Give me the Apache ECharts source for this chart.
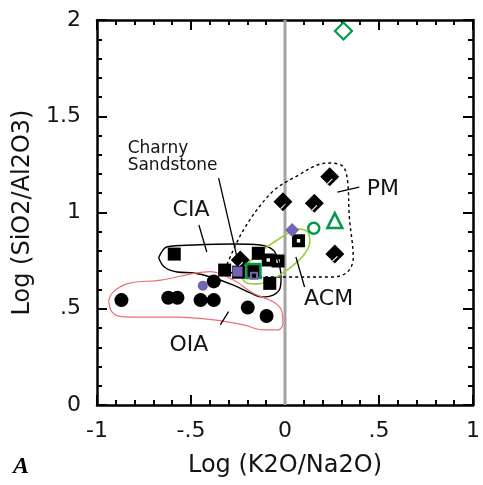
<!DOCTYPE html>
<html>
<head>
<meta charset="utf-8">
<script src="https://cdn.jsdelivr.net/npm/echarts@6/dist/echarts.min.js"></script>
<style>
  html, body { margin: 0; padding: 0; background: #ffffff; }
  #chart { width: 483px; height: 485px; }
</style>
</head>
<body>
<div id="chart"></div>
<script>
// Axis ticks and their printed labels
const xTicks = [-1, -0.5, 0, 0.5, 1];
const xTickLabels = ['-1', '-.5', '0', '.5', '1'];
const yTicks = [0, 0.5, 1, 1.5, 2];
const yTickLabels = ['0', '.5', '1', '1.5', '2'];

// Sample compositions: [log(K2O/Na2O), log(SiO2/Al2O3)]
const blackCircles = [[-0.87, 0.545], [-0.621, 0.557], [-0.572, 0.557], [-0.379, 0.642],
                      [-0.449, 0.545], [-0.379, 0.545], [-0.198, 0.506], [-0.098, 0.462]];
const blackSquares = [[-0.589, 0.784], [-0.321, 0.701], [-0.142, 0.788], [-0.247, 0.690],
                      [-0.081, 0.632], [-0.168, 0.696]];
const dottedSquares = [[-0.089, 0.753], [-0.037, 0.748], [0.072, 0.853]];
const blackDiamonds = [[-0.238, 0.753], [-0.011, 1.056], [0.238, 1.186], [0.156, 1.048], [0.265, 0.784]];
const purpleCircles = [[-0.437, 0.62]];
const purpleSquares = [[-0.253, 0.693]];
const purpleDiamonds = [[0.038, 0.909]];
const purpleOpenSquares = [[-0.165, 0.672]];
const charnySquare = [[-0.168, 0.696]];
const greenCircles = [[0.153, 0.918]];
const greenTriangles = [[0.265, 0.958]];
const greenDiamonds = [[0.311, 1.943]];

// Provenance field outlines
const pmField = [[-0.321, 0.701], [-0.221, 0.909], [-0.074, 1.101], [0.053, 1.184], [0.226, 1.257],
                 [0.305, 1.242], [0.332, 1.169], [0.342, 0.977], [0.363, 0.764], [0.332, 0.691],
                 [0.253, 0.665], [0.016, 0.665], [-0.184, 0.665], [-0.321, 0.701]];
const ciaField = [[-0.672, 0.765], [-0.626, 0.822], [-0.484, 0.831], [-0.274, 0.836], [-0.132, 0.831],
                  [-0.063, 0.805], [-0.037, 0.753], [-0.021, 0.665], [-0.026, 0.608], [-0.063, 0.571],
                  [-0.126, 0.561], [-0.184, 0.582], [-0.274, 0.623], [-0.395, 0.665], [-0.484, 0.686],
                  [-0.574, 0.691], [-0.642, 0.717], [-0.672, 0.765]];
const oiaField = [[-0.938, 0.545], [-0.912, 0.589], [-0.833, 0.632], [-0.658, 0.649], [-0.484, 0.684],
                  [-0.395, 0.693], [-0.274, 0.649], [-0.168, 0.580], [-0.063, 0.536], [-0.019, 0.493],
                  [-0.011, 0.424], [-0.037, 0.390], [-0.116, 0.390], [-0.221, 0.416], [-0.379, 0.442],
                  [-0.574, 0.456], [-0.747, 0.456], [-0.870, 0.459], [-0.922, 0.485], [-0.938, 0.545]];
const acmField = [[-0.232, 0.665], [-0.205, 0.634], [-0.142, 0.629], [-0.063, 0.655], [0.026, 0.712],
                  [0.100, 0.779], [0.132, 0.847], [0.121, 0.899], [0.068, 0.914], [0.000, 0.883],
                  [-0.132, 0.795], [-0.195, 0.738], [-0.226, 0.696], [-0.232, 0.665]];

// Field names and their leader lines
const fieldLabels = [
  { name: 'CIA', at: [-0.5, 1.013] },
  { name: 'OIA', at: [-0.511, 0.312] },
  { name: 'ACM', at: [0.232, 0.551] },
  { name: 'PM', at: [0.521, 1.122] }
];
const charnyLabel = { name: 'Charny\nSandstone', at: [-0.837, 1.286] };
const leaders = [
  [[-0.353, 1.179], [-0.258, 0.779]],
  [[-0.458, 0.935], [-0.416, 0.795]],
  [[-0.300, 0.485], [-0.344, 0.416]],
  [[0.058, 0.769], [0.104, 0.613]],
  [[0.279, 1.106], [0.395, 1.132]]
];
const zeroLine = [[0, 0], [0, 2]];

const FONT = 'DejaVu Sans';
const INK = '#000000';
const TEXT = '#141414';
const PURPLE = '#7464b4';
const GREEN = '#009a4c';

// Filled diamond with a thin white stroke near its lower-right edge
const diamondMark = 'path://M0,-10L10,0L0,10L-10,0Z M-3.2,7.4L-2.4,8.2L3.1,2.7L2.3,1.9Z';
// Filled square with a white centre dot
const dotSquareMark = 'path://M-10,-10L10,-10L10,10L-10,10Z M-2.6,-2.6L-2.6,2.6L2.6,2.6L2.6,-2.6Z';

function tickLabel(ticks, labels) {
  return v => {
    const i = ticks.findIndex(t => Math.abs(t - v) < 1e-9);
    return i >= 0 ? labels[i] : '';
  };
}

function frameAxis(extra) {
  return Object.assign({
    type: 'value',
    interval: 0.5,
    splitLine: { show: false },
    axisLine: { show: true, onZero: false, lineStyle: { color: INK, width: 2.5 } },
    axisTick: { show: true, inside: true, length: 10, lineStyle: { color: INK, width: 2 } },
    minorTick: { show: true, splitNumber: 5, length: 5, lineStyle: { color: INK, width: 2 } },
    axisLabel: { show: false }
  }, extra);
}

function outline(data, color, width, type, smooth) {
  return {
    type: 'line', data: data, smooth: smooth, symbol: 'none', silent: true, z: 2,
    lineStyle: { color: color, width: width, type: type }
  };
}

function points(data, symbol, size, style, z) {
  return {
    type: 'scatter', data: data, symbol: symbol, symbolSize: size, z: z || 5,
    itemStyle: Object.assign({ opacity: 1 }, style)
  };
}

function textMarks(items, labelStyle) {
  return {
    type: 'scatter', symbolSize: 0, silent: true, z: 8,
    itemStyle: { opacity: 1 },
    data: items.map(l => ({ value: l.at, name: l.name })),
    label: Object.assign({ show: true, formatter: '{b}', color: TEXT, fontFamily: FONT, opacity: 1 }, labelStyle)
  };
}

const series = [
  { type: 'line', data: zeroLine, symbol: 'none', z: 1, lineStyle: { color: '#a3a3a3', width: 3 } },
  outline(pmField, INK, 1.4, [3, 3], 0.35),
  outline(ciaField, INK, 1.4, 'solid', 0.35),
  outline(oiaField, '#ee6f74', 1.2, 'solid', 0.35),
  outline(acmField, '#9acd3a', 1.6, 'solid', 0.35)
];

leaders.forEach(seg => {
  series.push({ type: 'line', data: seg, symbol: 'none', z: 2, lineStyle: { color: INK, width: 1.3 } });
});

series.push(
  points(blackCircles, 'circle', 14, { color: INK }),
  points(blackSquares, 'rect', 13, { color: INK }),
  points(dottedSquares, dotSquareMark, 13, { color: INK }),
  points(blackDiamonds, diamondMark, 19, { color: INK }),
  points(charnySquare, 'rect', 14, { color: 'rgba(0,0,0,0)', borderColor: GREEN, borderWidth: 2.5 }, 6),
  points(purpleOpenSquares, 'rect', 6, { color: INK, borderColor: PURPLE, borderWidth: 2 }, 7),
  points(purpleCircles, 'circle', 10, { color: PURPLE }, 6),
  points(purpleSquares, 'rect', 10, { color: PURPLE }, 6),
  points(purpleDiamonds, 'diamond', 14, { color: PURPLE }, 6),
  points(greenCircles, 'circle', 11, { color: '#fff', borderColor: GREEN, borderWidth: 2.5 }, 6),
  points(greenTriangles, 'triangle', 15, { color: '#fff', borderColor: GREEN, borderWidth: 2.5 }, 6),
  points(greenDiamonds, 'diamond', 17, { color: '#fff', borderColor: GREEN, borderWidth: 2.2 }, 6)
);

series.push(textMarks(fieldLabels, { position: 'inside', fontSize: 22 }));
series.push(textMarks([charnyLabel], { position: 'right', distance: 0, align: 'left', fontSize: 17, lineHeight: 17 }));

const option = {
  backgroundColor: '#ffffff',
  animation: false,
  grid: { left: 97, right: 6, top: 20, bottom: 80, containLabel: false },
  xAxis: [
    frameAxis({
      position: 'bottom', min: -1, max: 1,
      name: 'Log (K2O/Na2O)', nameLocation: 'middle', nameGap: 49,
      nameTextStyle: { fontFamily: FONT, fontSize: 24, color: TEXT },
      axisLabel: { show: true, margin: 15, fontFamily: FONT, fontSize: 22, color: TEXT,
                   formatter: tickLabel(xTicks, xTickLabels) }
    }),
    frameAxis({ position: 'top', min: -1, max: 1 })
  ],
  yAxis: [
    frameAxis({
      position: 'left', min: 0, max: 2,
      name: 'Log (SiO2/Al2O3)', nameLocation: 'middle', nameGap: 56,
      nameTextStyle: { fontFamily: FONT, fontSize: 24, color: TEXT },
      axisLabel: { show: true, margin: 16, fontFamily: FONT, fontSize: 22, color: TEXT,
                   formatter: tickLabel(yTicks, yTickLabels) }
    }),
    frameAxis({ position: 'right', min: 0, max: 2 })
  ],
  graphic: [{
    type: 'text', left: 13, top: 455, silent: true,
    style: { text: 'A', fontFamily: 'Liberation Serif', fontStyle: 'italic', fontWeight: 'bold',
             fontSize: 24, fill: INK }
  }],
  series: series
};

const chart = echarts.init(document.getElementById('chart'), null, { renderer: 'canvas' });
chart.setOption(option);
</script>
</body>
</html>
